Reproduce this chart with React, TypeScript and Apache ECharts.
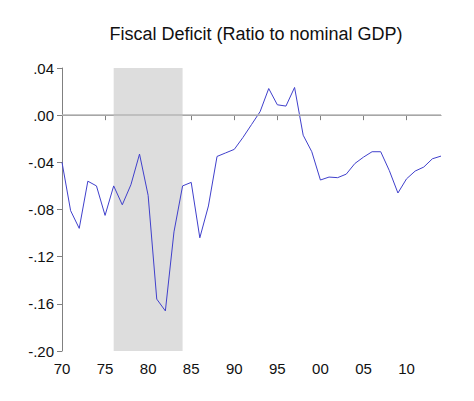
import React, { useEffect, useRef } from "react";
import * as echarts from "echarts";

const years: number[] = [
  1970, 1971, 1972, 1973, 1974, 1975, 1976, 1977, 1978, 1979,
  1980, 1981, 1982, 1983, 1984, 1985, 1986, 1987, 1988, 1989,
  1990, 1991, 1992, 1993, 1994, 1995, 1996, 1997, 1998, 1999,
  2000, 2001, 2002, 2003, 2004, 2005, 2006, 2007, 2008, 2009,
  2010, 2011, 2012, 2013, 2014,
];

const deficit: number[] = [
  -0.040, -0.081, -0.096, -0.056, -0.060, -0.085, -0.060, -0.076, -0.059, -0.033,
  -0.068, -0.156, -0.166, -0.099, -0.060, -0.057, -0.104, -0.077, -0.035, -0.032,
  -0.029, -0.019, -0.008, 0.003, 0.0226, 0.0088, 0.0077, 0.0235, -0.017, -0.031,
  -0.055, -0.0525, -0.053, -0.050, -0.041, -0.0356, -0.031, -0.031, -0.047, -0.066,
  -0.054, -0.0474, -0.044, -0.037, -0.0347,
];

const shadeStart = 1976;
const shadeEnd = 1984;
const xTicks: number[] = [1970, 1975, 1980, 1985, 1990, 1995, 2000, 2005, 2010];
const titleText = "Fiscal Deficit (Ratio to nominal GDP)";

export default function App() {
  const ref = useRef<HTMLDivElement>(null);
  useEffect(() => {
    if (!ref.current) return;
    const chart = echarts.init(ref.current, null, { renderer: "svg" });
    const font = "'Liberation Sans', Arial, sans-serif";
    chart.setOption({
      animation: false,
      backgroundColor: "#ffffff",
      title: {
        text: titleText,
        left: 251,
        textAlign: "center",
        top: 20,
        textStyle: { fontFamily: font, fontSize: 18, fontWeight: "normal", color: "#111" },
      },
      grid: { left: 62, right: 33, top: 68, bottom: 50, containLabel: false },
      xAxis: {
        type: "value",
        min: 1970,
        max: 2014,
        interval: 5,
        axisLine: { show: true, lineStyle: { color: "#808080", width: 1 } },
        axisTick: { show: true, length: 5, customValues: xTicks, lineStyle: { color: "#808080" } },
        axisLabel: {
          customValues: xTicks,
          margin: 10,
          fontFamily: font,
          fontSize: 15,
          color: "#111",
          formatter: (v: number) => String(v % 100).padStart(2, "0"),
        },
        splitLine: { show: false },
      },
      yAxis: {
        type: "value",
        min: -0.2,
        max: 0.04,
        interval: 0.04,
        axisLine: { show: true, lineStyle: { color: "#808080", width: 1 } },
        axisTick: { show: true, length: 5, lineStyle: { color: "#808080" } },
        axisLabel: {
          margin: 8,
          fontFamily: font,
          fontSize: 15,
          color: "#111",
          formatter: (v: number) => v.toFixed(2).replace(/^(-?)0\./, "$1."),
        },
        splitLine: { show: false },
      },
      series: [
        {
          type: "line",
          data: years.map((y, i) => [y, deficit[i]]),
          showSymbol: false,
          symbol: "none",
          lineStyle: { color: "#4040cc", width: 1 },
          z: 3,
          markArea: {
            silent: true,
            itemStyle: { color: "#dddddd" },
            data: [[{ xAxis: shadeStart }, { xAxis: shadeEnd }]],
          },
          markLine: {
            silent: true,
            symbol: "none",
            label: { show: false },
            lineStyle: { color: "#b4b4b4", width: 1.5, type: "solid" },
            data: [{ yAxis: 0 }],
          },
        },
      ],
    });
    return () => chart.dispose();
  }, []);
  return <div ref={ref} style={{ width: 474, height: 401, position: "absolute", left: 0, top: 0 }} />;
}
